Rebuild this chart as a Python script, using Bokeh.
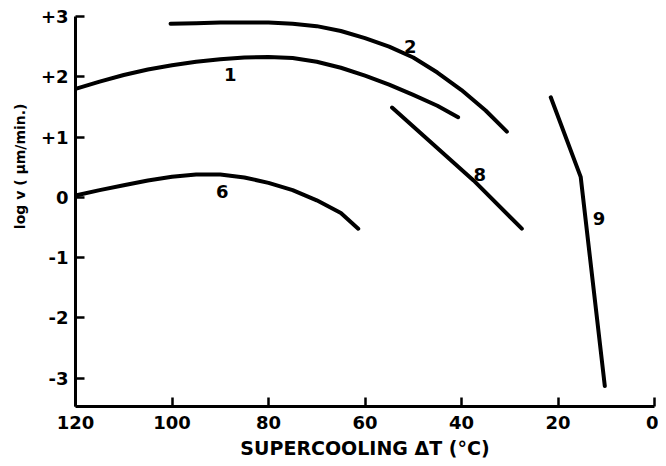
from bokeh.plotting import figure
from bokeh.models import Range1d, FixedTicker, LinearAxis, Title
from bokeh.core.properties import value
from bokeh.embed import file_html
from bokeh.resources import INLINE

# data
c1_x = [120, 115, 110, 105, 100, 95, 90, 85, 80, 75, 70, 65, 60, 55, 50, 45, 40.7]
c1_y = [1.80, 1.92, 2.03, 2.12, 2.19, 2.25, 2.29, 2.32, 2.33, 2.31, 2.25, 2.15, 2.02, 1.87, 1.70, 1.52, 1.33]
c2_x = [100.3, 95, 90, 85, 80, 75, 70, 65, 60, 55, 50, 45, 40, 35, 30.6]
c2_y = [2.88, 2.89, 2.90, 2.90, 2.90, 2.88, 2.84, 2.76, 2.64, 2.50, 2.32, 2.07, 1.78, 1.44, 1.09]
c6_x = [120, 115, 110, 105, 100, 95, 90, 85, 80, 75, 70, 65, 61.4]
c6_y = [0.03, 0.12, 0.20, 0.28, 0.34, 0.38, 0.38, 0.33, 0.24, 0.12, -0.05, -0.26, -0.52]
c8_x = [54.4, 37.5, 27.5]
c8_y = [1.49, 0.28, -0.52]
c9_x = [21.5, 15.3, 10.3]
c9_y = [1.66, 0.34, -3.13]

curve_names = ["1", "2", "6", "8", "9"]
label_x = [87.9, 50.6, 89.6, 36.2, 11.5]
label_y = [2.03, 2.50, 0.09, 0.38, -0.35]

x_ticks = [120, 100, 80, 60, 40, 20, 0]
x_tick_labels = ["120", "100", "80", "60", "40", "20", "0"]
y_ticks = [3, 2, 1, 0, -1, -2, -3]
y_tick_labels = ["+3", "+2", "+1", "0", "-1", "-2", "-3"]
x_title = "SUPERCOOLING ΔT (°C)"
y_title = "log v ( μm/min.)"

FONT = "DejaVu Sans"

p = figure(width=658, height=461, output_backend="svg", toolbar_location=None,
           x_range=Range1d(120, 0), y_range=Range1d(-3.47, 3.0),
           x_axis_location=None, y_axis_location=None,
           min_border_left=75, min_border_right=4, min_border_top=16, min_border_bottom=52)
p.grid.visible = False
p.outline_line_color = None
p.background_fill_color = "white"

xa = LinearAxis(ticker=FixedTicker(ticks=x_ticks),
                major_label_overrides={t: s for t, s in zip(x_ticks, x_tick_labels)},
                axis_label=x_title)
ya = LinearAxis(ticker=FixedTicker(ticks=y_ticks),
                major_label_overrides={t: s for t, s in zip(y_ticks, y_tick_labels)})
for ax in (xa, ya):
    ax.axis_line_width = 3
    ax.axis_line_color = "black"
    ax.major_tick_in = 9
    ax.major_tick_out = 0
    ax.major_tick_line_width = 2.5
    ax.minor_tick_line_color = None
    ax.major_label_text_font = FONT
    ax.major_label_text_font_size = "18px"
    ax.major_label_text_font_style = "bold"
    ax.major_label_text_color = "black"
    ax.axis_label_text_font = FONT
    ax.axis_label_text_color = "black"
xa.major_label_standoff = 9
xa.axis_label_text_font_size = "19px"
xa.axis_label_text_font_style = "bold"
xa.axis_label_standoff = 5
ya.major_label_standoff = 7
p.add_layout(xa, "below")
p.add_layout(ya, "left")

yt = Title(text=y_title, align="right", offset=87, standoff=19,
           text_font=FONT, text_font_size="14px", text_font_style="bold",
           text_color="black")
p.add_layout(yt, "left")

for xs, ys in [(c1_x, c1_y), (c2_x, c2_y), (c6_x, c6_y), (c8_x, c8_y), (c9_x, c9_y)]:
    p.line(xs, ys, line_width=4, line_color="black", line_cap="round", line_join="round")

p.text(x=label_x, y=label_y, text=curve_names, text_font_size="18px",
       text_font_style="bold", text_align="center", text_baseline="middle",
       text_color="black", text_font=value(FONT))

open("out.html", "w").write(file_html(p, INLINE))
